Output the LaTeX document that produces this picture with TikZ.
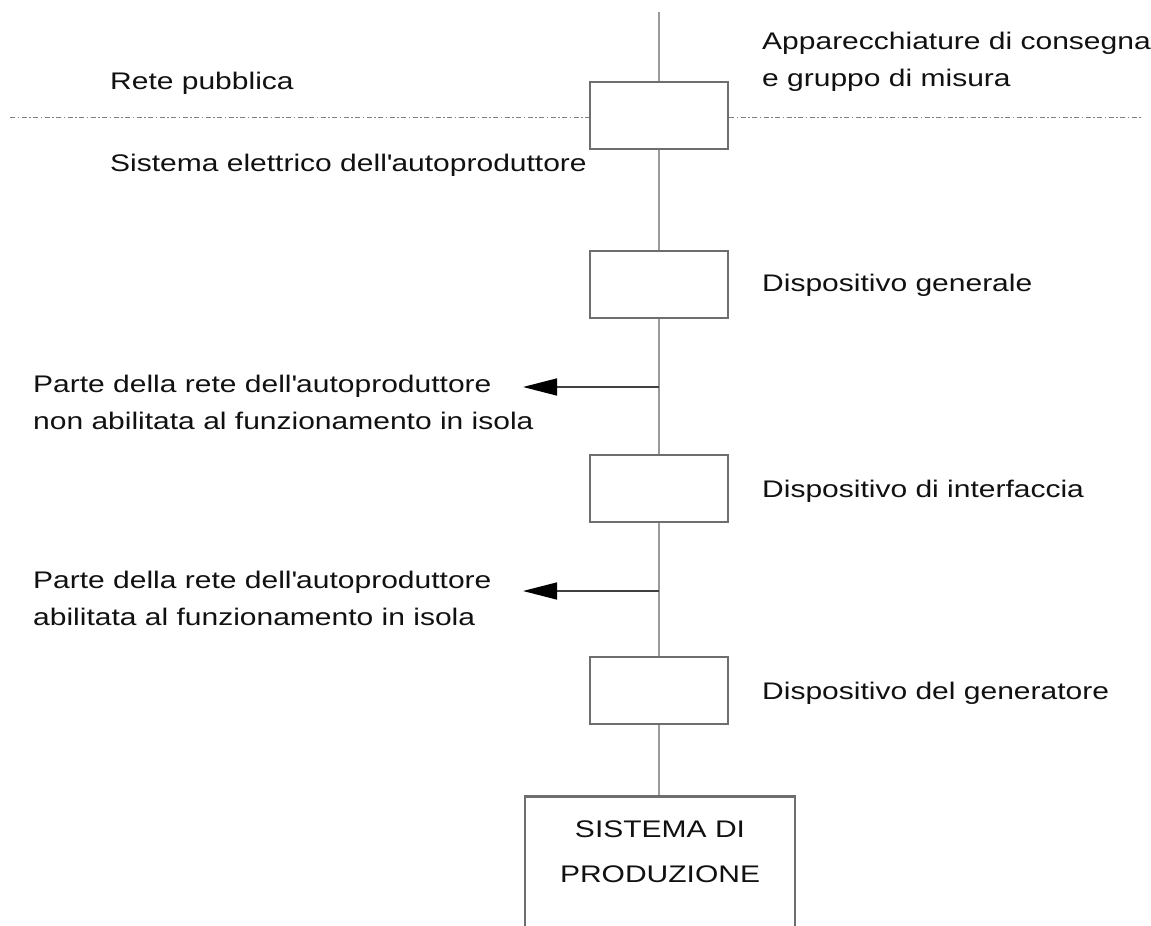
\documentclass[tikz,border=0pt]{standalone}
\usepackage{fontspec}
\setmainfont[FakeStretch=1.25]{Liberation Sans}
\usetikzlibrary{arrows.meta}
\definecolor{wire}{HTML}{9A9A9A}
\definecolor{boxline}{HTML}{6E6E6E}
\definecolor{txt}{HTML}{111111}
\tikzset{
  devbox/.style={draw=boxline, line width=2pt, fill=white, minimum width=138pt, minimum height=67pt, inner sep=0pt},
  prodbox/.style={draw=boxline, line width=2.5pt, fill=white, minimum width=270pt, minimum height=170pt, inner sep=0pt},
  wireline/.style={draw=wire, line width=2.5pt},
  lbl/.style={anchor=west, inner sep=0pt, text=txt, font=\fontsize{24pt}{37pt}\selectfont, align=left},
  feed/.style={draw=black!75, line width=1.5pt, -{Triangle[length=34pt,width=17pt,color=black]}},
  boundary/.style={draw=gray, line width=1pt, dash pattern=on 5pt off 2.5pt on 1.5pt off 2.5pt}
}
\begin{document}
\begin{tikzpicture}[x=1pt,y=-1pt]
\useasboundingbox (0,0) rectangle (1151,926);
\clip (0,0) rectangle (1151,926);
\fill[white] (0,0) rectangle (1151,926);
% devices
\node[devbox] (b1) at (659,115) {};
\node[devbox] (b2) at (659,284) {};
\node[devbox] (b3) at (659,488) {};
\node[devbox] (b4) at (659,690) {};
\node[prodbox, anchor=north] (prod) at (660,795) {};
\node[text=txt, font=\fontsize{24pt}{45pt}\selectfont, align=center, anchor=north, inner sep=0pt] (prodtxt) at (660,821) {SISTEMA DI\\PRODUZIONE};
% boundary
\coordinate (dl1) at (10,117);
\coordinate (dr1) at (1141,117);
\draw[boundary] (dl1) -- (b1.west |- dl1);
\draw[boundary] (b1.east |- dr1) -- (dr1);
% wire
\coordinate (top) at (659,12);
\coordinate (j1) at (659,387);
\coordinate (j2) at (659,591);
\coordinate (a1) at (523,387);
\coordinate (a2) at (523,591);
\draw[wireline] (top) -- (b1.north);
\draw[wireline] (b1.south) -- (b2.north);
\draw[wireline] (b2.south) -- (b3.north);
\draw[wireline] (b3.south) -- (b4.north);
\draw[wireline] (b4.south) -- (prod.north -| b4.south);
\draw[feed] (j1) -- (a1);
\draw[feed] (j2) -- (a2);
% labels
\node[lbl] (l1) at (762,62) {Apparecchiature di consegna\\e gruppo di misura};
\node[lbl] (l2) at (110,83) {Rete pubblica};
\node[lbl] (l3) at (110,165) {Sistema elettrico dell\textquotesingle autoproduttore};
\node[lbl] (l4) at (762,285) {Dispositivo generale};
\node[lbl] (l5) at (33,402) {Parte della rete dell\textquotesingle autoproduttore\\non abilitata al funzionamento in isola};
\node[lbl] (l6) at (762,491) {Dispositivo di interfaccia};
\node[lbl] (l7) at (33,598) {Parte della rete dell\textquotesingle autoproduttore\\abilitata al funzionamento in isola};
\node[lbl] (l8) at (762,693) {Dispositivo del generatore};
\end{tikzpicture}
\end{document}
